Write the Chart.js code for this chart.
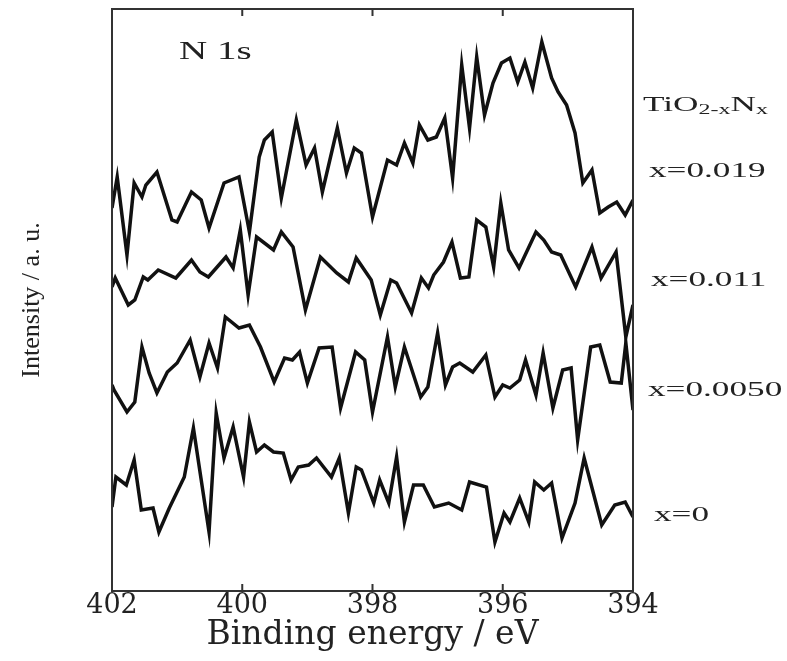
<!DOCTYPE html>
<html>
<head>
<meta charset="utf-8">
<script src="https://cdn.jsdelivr.net/npm/chart.js@4/dist/chart.umd.min.js"></script>
<style>
  html, body { margin: 0; padding: 0; background: #fff; }
  canvas { display: block; }
</style>
</head>
<body>
<canvas id="xps" width="787" height="661"></canvas>
<script>
// N 1s XPS of TiO2-xNx, binding energy (eV) vs intensity (a.u., traces stacked)
var tickValues = [402, 400, 398, 396, 394];

// x = 0.019
var energy019 = [402.0, 401.92, 401.77, 401.66, 401.54, 401.48, 401.31, 401.08, 401.0, 400.78,
  400.63, 400.51, 400.28, 400.05, 399.89, 399.74, 399.66, 399.54, 399.4, 399.17,
  399.02, 398.89, 398.77, 398.54, 398.4, 398.28, 398.17, 398.0, 397.77, 397.63,
  397.51, 397.38, 397.28, 397.15, 397.02, 396.89, 396.77, 396.63, 396.51, 396.4,
  396.28, 396.15, 396.02, 395.89, 395.77, 395.66, 395.54, 395.4, 395.25, 395.15,
  395.02, 394.89, 394.77, 394.63, 394.51, 394.38, 394.25, 394.12, 394.0];
var intensity019 = [38.3, 41.4, 33.6, 40.8, 39.4, 40.6, 41.9, 37.1, 36.9, 39.9,
  39.1, 36.3, 40.8, 41.4, 35.9, 43.4, 45.1, 45.9, 39.3, 47.1,
  42.6, 44.3, 39.9, 46.3, 41.8, 44.3, 43.8, 37.4, 43.1, 42.6,
  44.8, 42.8, 46.6, 45.1, 45.4, 47.3, 41.3, 52.6, 46.3, 53.4,
  47.6, 50.8, 52.8, 53.3, 50.9, 52.9, 50.3, 54.9, 51.3, 49.9,
  48.6, 45.8, 40.8, 42.1, 37.8, 38.4, 38.9, 37.6, 39.1];

// x = 0.011
var energy011 = [402.0, 401.95, 401.75, 401.65, 401.52, 401.45, 401.29, 401.02, 400.78, 400.65,
  400.52, 400.25, 400.14, 400.03, 399.91, 399.78, 399.52, 399.4, 399.22, 399.03,
  398.8, 398.55, 398.37, 398.25, 398.02, 397.88, 397.72, 397.63, 397.4, 397.25,
  397.14, 397.06, 396.91, 396.78, 396.65, 396.52, 396.4, 396.26, 396.14, 396.03,
  395.91, 395.75, 395.49, 395.37, 395.25, 395.11, 394.88, 394.63, 394.49, 394.26,
  394.11, 394.0];
var intensity011 = [30.4, 31.3, 28.6, 29.1, 31.4, 31.1, 32.1, 31.3, 33.1, 31.9,
  31.4, 33.4, 32.3, 36.1, 29.6, 35.4, 34.1, 35.9, 34.4, 28.1,
  33.4, 31.8, 30.9, 33.3, 31.1, 27.6, 31.1, 30.8, 27.8, 31.3,
  30.3, 31.6, 32.9, 34.9, 31.3, 31.4, 37.1, 36.4, 32.4, 38.8,
  34.1, 32.3, 35.9, 35.1, 33.9, 33.6, 30.4, 34.4, 31.3, 33.9,
  25.4, 28.6];

// x = 0.0050
var energy0050 = [402.0, 401.97, 401.77, 401.65, 401.54, 401.43, 401.31, 401.15, 401.0, 400.8,
  400.65, 400.51, 400.38, 400.26, 400.05, 399.89, 399.72, 399.51, 399.35, 399.23,
  399.12, 399.0, 398.82, 398.62, 398.49, 398.26, 398.12, 398.0, 397.77, 397.65,
  397.51, 397.26, 397.15, 397.0, 396.88, 396.77, 396.66, 396.46, 396.26, 396.12,
  396.0, 395.89, 395.74, 395.65, 395.49, 395.38, 395.23, 395.08, 394.95, 394.85,
  394.65, 394.51, 394.35, 394.18, 394.11, 394.0];
var intensity0050 = [20.6, 20.1, 17.9, 18.9, 24.4, 21.8, 19.8, 21.9, 22.8, 25.1,
  21.4, 24.8, 22.3, 27.4, 26.3, 26.6, 24.4, 20.9, 23.3, 23.1,
  23.9, 20.8, 24.3, 24.4, 18.3, 23.9, 23.1, 17.9, 25.4, 20.4,
  24.4, 19.4, 20.4, 25.8, 20.6, 22.4, 22.8, 21.9, 23.6, 19.4,
  20.6, 20.3, 21.1, 23.1, 19.6, 23.8, 18.3, 22.1, 22.3, 15.1,
  24.4, 24.6, 20.9, 20.8, 24.8, 18.1];

// x = 0
var energy0 = [402.0, 401.94, 401.78, 401.66, 401.55, 401.37, 401.28, 401.12, 400.89, 400.75,
  400.63, 400.51, 400.4, 400.28, 400.14, 399.98, 399.89, 399.78, 399.66, 399.52,
  399.37, 399.25, 399.14, 398.98, 398.86, 398.63, 398.51, 398.37, 398.25, 398.17,
  397.98, 397.89, 397.75, 397.63, 397.51, 397.37, 397.22, 397.05, 396.83, 396.63,
  396.51, 396.25, 396.12, 395.98, 395.89, 395.74, 395.6, 395.51, 395.37, 395.25,
  395.09, 394.89, 394.75, 394.48, 394.28, 394.12, 394.0];
var intensity0 = [8.4, 11.4, 10.6, 13.1, 8.1, 8.3, 5.9, 8.3, 11.4, 16.3,
  11.1, 5.9, 17.8, 13.3, 16.4, 11.4, 16.9, 13.9, 14.6, 13.9,
  13.8, 11.1, 12.4, 12.6, 13.3, 11.4, 13.3, 7.8, 12.4, 12.1,
  8.8, 11.1, 8.8, 13.4, 6.9, 10.6, 10.6, 8.4, 8.8, 8.1,
  10.9, 10.4, 4.9, 7.8, 6.9, 9.3, 6.9, 10.9, 10.1, 10.8,
  5.3, 8.8, 13.3, 6.6, 8.6, 8.9, 7.4];

var seriesLabels = ['x=0.019', 'x=0.011', 'x=0.0050', 'x=0'];
// where each series label sits, in intensity units
var seriesLabelLevels = [42.0, 31.1, 20.1, 7.6];

function pairUp(xs, ys) {
  return xs.map(function (e, i) { return { x: e, y: ys[i] }; });
}

function makeSet(label, xs, ys) {
  return {
    label: label,
    data: pairUp(xs, ys),
    borderColor: '#111',
    borderWidth: 3.5,
    pointRadius: 0,
    tension: 0,
    fill: false
  };
}

// text in the scan is stretched sideways, so draw it the same way
function wideText(ctx, text, x, y, size, sx) {
  ctx.save();
  ctx.translate(x, y);
  ctx.scale(sx, 1);
  ctx.font = size + 'px "Liberation Serif"';
  ctx.fillText(text, 0, 0);
  var w = ctx.measureText(text).width * sx;
  ctx.restore();
  return w;
}

const framePlugin = {
  id: 'frame',
  afterDraw(chart) {
    const ctx = chart.ctx;
    const a = chart.chartArea;
    const xs = chart.scales.x;
    const ys = chart.scales.y;
    ctx.save();
    ctx.strokeStyle = '#333';
    ctx.lineWidth = 2;
    ctx.strokeRect(a.left, a.top, a.right - a.left, a.bottom - a.top);

    // inward ticks top and bottom
    ctx.beginPath();
    tickValues.forEach(function (v) {
      var px = xs.getPixelForValue(v);
      ctx.moveTo(px, a.bottom);
      ctx.lineTo(px, a.bottom - 7);
      ctx.moveTo(px, a.top);
      ctx.lineTo(px, a.top + 7);
    });
    ctx.stroke();

    ctx.fillStyle = '#222';
    ctx.textBaseline = 'middle';
    ctx.textAlign = 'left';
    wideText(ctx, 'N 1s', xs.getPixelForValue(400.97), ys.getPixelForValue(53.9), 26, 1.5);

    // TiO2-xNx with subscripts
    var lx = a.right + 10;
    var ly = ys.getPixelForValue(48.6);
    lx += wideText(ctx, 'TiO', lx, ly, 22, 1.6);
    lx += wideText(ctx, '2-x', lx, ly + 5, 15, 1.6);
    lx += wideText(ctx, 'N', lx, ly, 22, 1.6);
    wideText(ctx, 'x', lx, ly + 5, 15, 1.6);

    var offsets = [16, 18, 15, 21];
    seriesLabels.forEach(function (t, i) {
      wideText(ctx, t, a.right + offsets[i], ys.getPixelForValue(seriesLabelLevels[i]), 22, 1.6);
    });
    ctx.restore();
  }
};

const config = {
  type: 'line',
  data: {
    datasets: [
      makeSet(seriesLabels[0], energy019, intensity019),
      makeSet(seriesLabels[1], energy011, intensity011),
      makeSet(seriesLabels[2], energy0050, intensity0050),
      makeSet(seriesLabels[3], energy0, intensity0)
    ]
  },
  options: {
    responsive: false,
    animation: false,
    devicePixelRatio: 1,
    layout: { padding: { top: 9, right: 154, bottom: 0, left: 0 } },
    plugins: {
      legend: { display: false },
      tooltip: { enabled: false }
    },
    scales: {
      x: {
        type: 'linear',
        min: 394,
        max: 402,
        reverse: true,
        grid: { display: false },
        border: { display: false },
        afterBuildTicks: function (s) {
          s.ticks = tickValues.map(function (v) { return { value: v }; });
        },
        afterFit: function (s) { s.height = 70; },
        ticks: {
          padding: -9,
          color: '#222',
          font: { family: 'DejaVu Serif', size: 27 }
        },
        title: {
          display: true,
          text: 'Binding energy / eV',
          color: '#222',
          padding: { top: 0, bottom: 6 },
          font: { family: 'DejaVu Serif', size: 33 }
        }
      },
      y: {
        min: 0,
        max: 58.2,
        grid: { display: false },
        border: { display: false },
        ticks: { display: false },
        afterFit: function (s) { s.width = 112; },
        title: {
          display: true,
          text: 'Intensity / a. u.',
          color: '#222',
          padding: { top: 17, bottom: 0 },
          font: { family: 'Liberation Serif', size: 26 }
        }
      }
    }
  },
  plugins: [framePlugin]
};

var xpsChart = new Chart(document.getElementById('xps'), config);
</script>
</body>
</html>
